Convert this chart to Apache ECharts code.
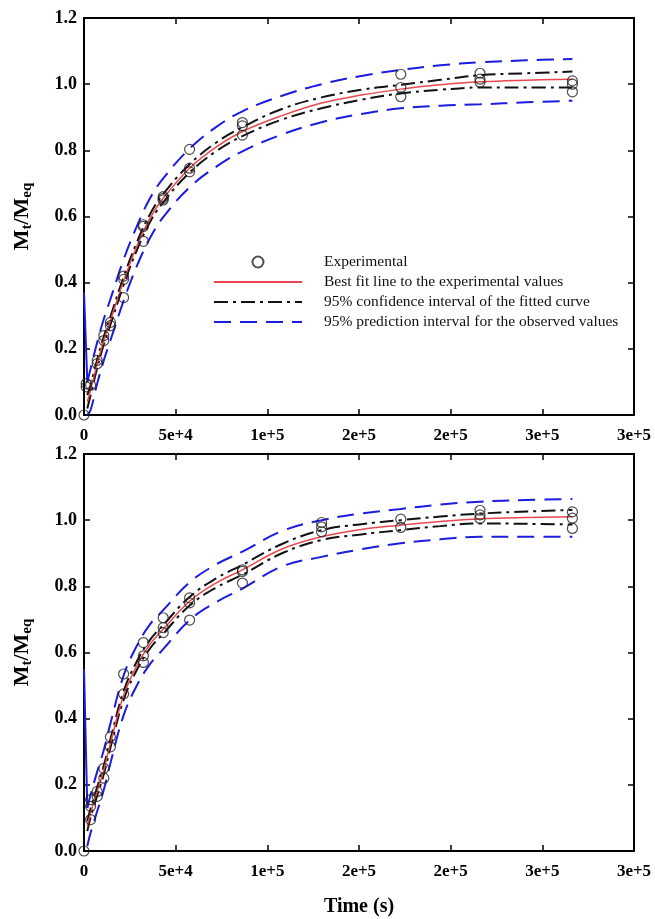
<!DOCTYPE html>
<html>
<head>
<meta charset="utf-8">
<script src="https://cdn.jsdelivr.net/npm/echarts@6/dist/echarts.min.js"></script>
<style>
  html, body { margin: 0; padding: 0; background: #fff; }
  #chart { width: 655px; height: 919px; }
</style>
</head>
<body>
<div id="chart"></div>
<script>
// Sorption kinetics: fraction of equilibrium uptake vs. time, two samples.

// Shared time grid (s) for the fitted curve and its interval bands
const curveTimes = [0, 1800, 3600, 7200, 10800, 14400, 21600, 28800, 36000, 43200, 57600,
                    72000, 86400, 108000, 129600, 151200, 172800, 194400, 216000, 241200, 266400];

// Upper panel
const topFit   = [null, 0.04, 0.075, 0.155, 0.225, 0.285, 0.405, 0.51, 0.595, 0.655, 0.746,
                  0.81, 0.857, 0.905, 0.943, 0.967, 0.985, 0.998, 1.007, 1.012, 1.015];
const topCiUp  = [null, 0.06, 0.09, 0.168, 0.237, 0.297, 0.417, 0.522, 0.607, 0.668, 0.758,
                  0.823, 0.87, 0.925, 0.96, 0.983, 0.998, 1.013, 1.027, 1.033, 1.038];
const topCiLow = [null, 0.02, 0.06, 0.142, 0.213, 0.273, 0.393, 0.498, 0.583, 0.643, 0.733,
                  0.797, 0.843, 0.893, 0.927, 0.953, 0.972, 0.983, 0.99, 0.99, 0.99];
const topPiUp  = [0.37, 0.10, 0.14, 0.22, 0.29, 0.35, 0.47, 0.57, 0.655, 0.715, 0.805,
                  0.87, 0.918, 0.965, 1.0, 1.025, 1.043, 1.057, 1.066, 1.072, 1.076];
const topPiLow = [null, 0.0, 0.015, 0.095, 0.165, 0.225, 0.345, 0.45, 0.535, 0.598, 0.688,
                  0.75, 0.797, 0.848, 0.885, 0.91, 0.927, 0.935, 0.939, 0.945, 0.95];
const topObsTimes = [0, 1200, 1200, 3600, 7200, 7200, 10800, 10800, 14400, 14400,
                     21600, 21600, 21600, 32400, 32400, 32400, 43200, 43200, 43200,
                     57600, 57600, 57600, 86400, 86400, 86400, 172800, 172800, 172800,
                     216000, 216000, 216000, 266400, 266400, 266400];
const topObsValues = [0, 0.085, 0.095, 0.09, 0.155, 0.165, 0.225, 0.24, 0.27, 0.28,
                      0.355, 0.41, 0.42, 0.525, 0.57, 0.575, 0.65, 0.655, 0.66,
                      0.735, 0.746, 0.803, 0.846, 0.874, 0.884, 0.962, 0.99, 1.03,
                      1.006, 1.015, 1.033, 0.977, 1.0, 1.01];

// Lower panel
const botFit   = [null, 0.075, 0.115, 0.18, 0.245, 0.325, 0.47, 0.56, 0.625, 0.67, 0.755,
                  0.81, 0.85, 0.913, 0.95, 0.972, 0.985, 0.996, 1.004, 1.008, 1.01];
const botCiUp  = [null, 0.09, 0.128, 0.193, 0.258, 0.338, 0.483, 0.573, 0.638, 0.683, 0.768,
                  0.824, 0.865, 0.928, 0.97, 0.988, 1.0, 1.011, 1.02, 1.026, 1.031];
const botCiLow = [null, 0.06, 0.102, 0.167, 0.232, 0.312, 0.457, 0.547, 0.612, 0.657, 0.742,
                  0.796, 0.835, 0.9, 0.94, 0.957, 0.97, 0.982, 0.99, 0.989, 0.987];
const botPiUp  = [0.55, 0.13, 0.17, 0.24, 0.305, 0.385, 0.53, 0.62, 0.685, 0.728, 0.812,
                  0.866, 0.905, 0.967, 1.0, 1.02, 1.034, 1.047, 1.056, 1.061, 1.064];
const botPiLow = [null, 0.015, 0.055, 0.12, 0.185, 0.265, 0.41, 0.5, 0.565, 0.61, 0.698,
                  0.752, 0.793, 0.86, 0.889, 0.912, 0.93, 0.942, 0.95, 0.95, 0.95];
const botObsTimes = [0, 3600, 3600, 3600, 7200, 7200, 10800, 10800, 14400, 14400,
                     21600, 21600, 32400, 32400, 32400, 43200, 43200, 43200,
                     57600, 57600, 57600, 86400, 86400, 86400, 129600, 129600, 129600,
                     172800, 172800, 216000, 216000, 216000, 266400, 266400, 266400];
const botObsValues = [0, 0.095, 0.135, 0.155, 0.165, 0.18, 0.22, 0.25, 0.315, 0.345,
                      0.475, 0.535, 0.57, 0.59, 0.63, 0.66, 0.675, 0.705,
                      0.698, 0.75, 0.765, 0.81, 0.845, 0.85, 0.965, 0.98, 0.993,
                      0.978, 1.003, 1.005, 1.016, 1.03, 0.975, 1.006, 1.025];

// Axis tick labels as printed
const xTickLabels = ['0', '5e+4', '1e+5', '2e+5', '2e+5', '3e+5', '3e+5'];
const yTickLabels = ['0.0', '0.2', '0.4', '0.6', '0.8', '1.0', '1.2'];

const NAME_OBS = 'Experimental';
const NAME_FIT = 'Best fit line to the experimental values';
const NAME_CI  = '95% confidence interval of the fitted curve';
const NAME_PI  = '95% prediction interval for the observed values';

const SERIF = "'Liberation Serif', 'Times New Roman', serif";
const RED = '#e8484e';
const BLUE = '#1c1ce0';
const BLACK = '#111';

function pairs(times, values, from, to) {
  const out = [];
  times.forEach((t, i) => {
    if (from != null && (i < from || i > to)) return;
    if (values[i] != null) out.push([t, values[i]]);
  });
  return out;
}

const frameLine = { show: true, onZero: false, lineStyle: { color: '#000', width: 2 } };
const innerTick = { show: true, inside: true, length: 6, lineStyle: { color: '#000', width: 1.5 } };

function xAxes(gridIndex, withName) {
  const base = {
    type: 'value', gridIndex, min: 0, max: 300000, interval: 50000,
    splitLine: { show: false }, axisLine: frameLine, axisTick: innerTick
  };
  const bottom = Object.assign({}, base, {
    position: 'bottom',
    axisLabel: {
      margin: 12, color: '#000', fontFamily: SERIF, fontWeight: 'bold', fontSize: 17,
      formatter: v => xTickLabels[Math.round(v / 50000)]
    }
  });
  if (withName) {
    Object.assign(bottom, {
      name: 'Time (s)', nameLocation: 'middle', nameGap: 46,
      nameTextStyle: { color: '#000', fontFamily: SERIF, fontWeight: 'bold', fontSize: 20 }
    });
  }
  const top = Object.assign({}, base, { position: 'top', axisLabel: { show: false } });
  return [bottom, top];
}

function yAxes(gridIndex) {
  const base = {
    type: 'value', gridIndex, min: 0, max: 1.2, interval: 0.2,
    splitLine: { show: false }, axisLine: frameLine, axisTick: innerTick
  };
  const left = Object.assign({}, base, {
    position: 'left',
    axisLabel: {
      margin: 7, color: '#000', fontFamily: SERIF, fontWeight: 'bold', fontSize: 18,
      formatter: v => yTickLabels[Math.round(v / 0.2)]
    },
    name: '{m|M}{s|t}{m|/M}{s|eq}', nameLocation: 'middle', nameRotate: 90, nameGap: 48,
    nameTextStyle: {
      rich: {
        m: { fontFamily: SERIF, fontWeight: 'bold', fontSize: 22, color: '#000', lineHeight: 28, verticalAlign: 'middle' },
        s: { fontFamily: SERIF, fontWeight: 'bold', fontSize: 15, color: '#000', lineHeight: 28, padding: [11, 0, 0, 0], verticalAlign: 'middle' }
      }
    }
  });
  const right = Object.assign({}, base, { position: 'right', axisLabel: { show: false } });
  return [left, right];
}

function panelSeries(xi, yi, fit, ciUp, ciLow, piUp, piLow, obsT, obsV) {
  const lineBase = {
    type: 'line', xAxisIndex: xi, yAxisIndex: yi, symbol: 'none', showSymbol: false,
    smooth: 0.4, animation: false
  };
  const blue = { color: BLUE, width: 2, type: [17, 9] };
  const black = { color: BLACK, width: 2, type: [14, 5, 3, 5] };
  const last = curveTimes.length - 1;
  return [
    Object.assign({}, lineBase, { name: NAME_PI, data: pairs(curveTimes, piUp, 1, last), lineStyle: blue, itemStyle: { color: BLUE } }),
    Object.assign({}, lineBase, { name: NAME_PI, data: pairs(curveTimes, piLow), lineStyle: blue, itemStyle: { color: BLUE } }),
    // steep start of the upper prediction bound, drawn straight
    Object.assign({}, lineBase, { name: NAME_PI, smooth: false, data: pairs(curveTimes, piUp, 0, 1), lineStyle: { color: BLUE, width: 2 }, itemStyle: { color: BLUE } }),
    Object.assign({}, lineBase, { name: NAME_CI, data: pairs(curveTimes, ciUp), lineStyle: black, itemStyle: { color: BLACK } }),
    Object.assign({}, lineBase, { name: NAME_CI, data: pairs(curveTimes, ciLow), lineStyle: black, itemStyle: { color: BLACK } }),
    Object.assign({}, lineBase, { name: NAME_FIT, data: pairs(curveTimes, fit), lineStyle: { color: RED, width: 1.5 }, itemStyle: { color: RED } }),
    {
      type: 'scatter', name: NAME_OBS, xAxisIndex: xi, yAxisIndex: yi, clip: false,
      symbol: 'circle', symbolSize: 10, animation: false, z: 5,
      itemStyle: { color: 'rgba(0,0,0,0)', borderColor: '#222', borderWidth: 1.2 },
      data: pairs(obsT, obsV)
    }
  ];
}

const hiddenMarker = { opacity: 0 };

const chart = echarts.init(document.getElementById('chart'), null, { renderer: 'canvas' });
chart.setOption({
  animation: false,
  backgroundColor: '#fff',
  grid: [
    { left: 84, top: 18, width: 550, height: 397 },
    { left: 84, top: 454, width: 550, height: 397 }
  ],
  xAxis: [...xAxes(0, false), ...xAxes(1, true)],
  yAxis: [...yAxes(0), ...yAxes(1)],
  legend: {
    orient: 'vertical', left: 213, top: 254, padding: 0,
    itemWidth: 88, itemHeight: 11, itemGap: 4,
    data: [
      { name: NAME_OBS },
      { name: NAME_FIT, itemStyle: hiddenMarker },
      { name: NAME_CI, itemStyle: hiddenMarker },
      { name: NAME_PI, itemStyle: hiddenMarker }
    ],
    textStyle: { fontFamily: SERIF, fontSize: 15.5, color: '#111', lineHeight: 11, padding: [0, 0, 0, 17] }
  },
  series: [
    ...panelSeries(0, 0, topFit, topCiUp, topCiLow, topPiUp, topPiLow, topObsTimes, topObsValues),
    ...panelSeries(2, 2, botFit, botCiUp, botCiLow, botPiUp, botPiLow, botObsTimes, botObsValues)
  ]
});
</script>
</body>
</html>
